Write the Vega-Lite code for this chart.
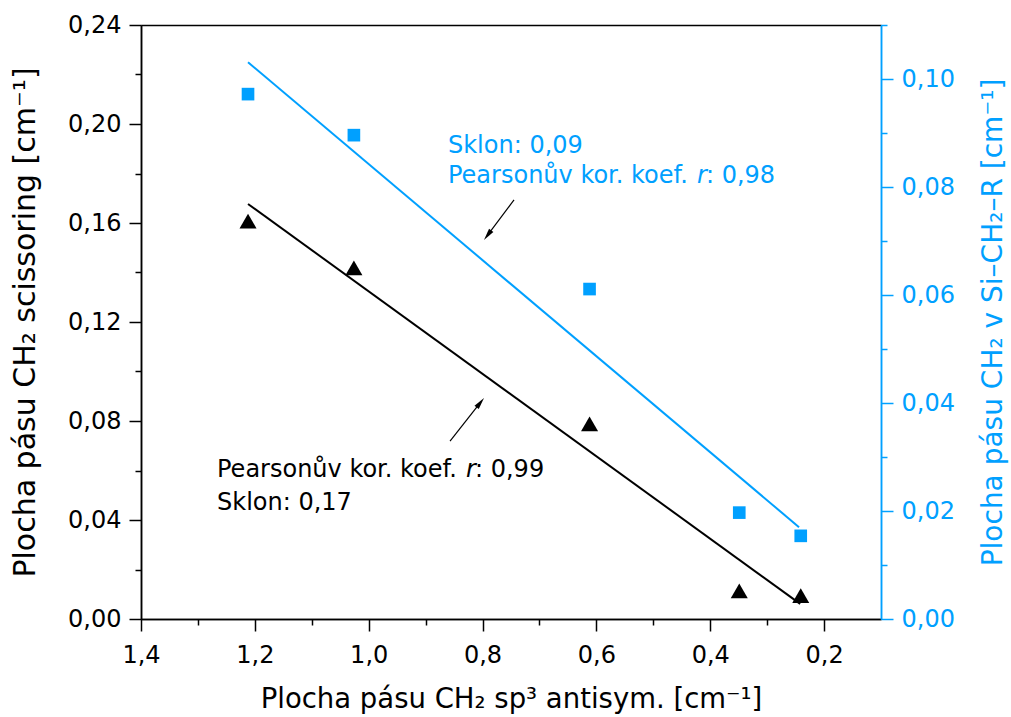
{
  "$schema": "https://vega.github.io/schema/vega-lite/v6.json",
  "width": 740,
  "height": 594,
  "autosize": {"type": "none"},
  "padding": {"left": 141, "top": 25, "right": 130, "bottom": 98},
  "background": "white",
  "config": {
    "view": {"stroke": null},
    "font": "DejaVu Sans",
    "axis": {
      "grid": false,
      "labelFont": "DejaVu Sans",
      "titleFont": "DejaVu Sans",
      "labelFontSize": 24,
      "titleFontSize": 28,
      "titleFontWeight": "normal",
      "domainColor": "black",
      "tickColor": "black",
      "labelColor": "black",
      "titleColor": "black",
      "domainWidth": 1.5,
      "tickWidth": 1.5,
      "tickSize": 12,
      "labelFlush": false,
      "labelOverlap": false
    }
  },
  "datasets": {
    "pts": [
      {"x": 1.212, "tri": 0.1608, "sq": 0.0972},
      {"x": 1.026, "tri": 0.1419, "sq": 0.0896},
      {"x": 0.612, "tri": 0.0788, "sq": 0.0611},
      {"x": 0.349, "tri": 0.0114, "sq": 0.0197},
      {"x": 0.241, "tri": 0.0094, "sq": 0.0154}
    ],
    "fitBlack": [
      {"x": 1.212, "y": 0.1677},
      {"x": 0.242, "y": 0.0061}
    ],
    "fitBlue": [
      {"x": 1.212, "y": 0.1031},
      {"x": 0.244, "y": 0.0170}
    ],
    "arrows": [
      {"x": 0.8571, "y": 0.0719, "x2": 0.8039, "y2": 0.0874},
      {"x": 0.7447, "y": 0.1693, "x2": 0.7911, "y2": 0.1551}
    ],
    "headBlack": [{"x": 0.8039, "y": 0.0874}],
    "headBlue": [{"x": 0.7911, "y": 0.1551}],
    "txtBlackA": [
      {"x": 1.2665, "y": 0.0574, "t": "Pearsonův kor. koef."},
      {"x": 1.2665, "y": 0.0440, "t": "Sklon: 0,17"}
    ],
    "txtBlackB": [{"x": 1.2665, "y": 0.0574, "t": "r"}],
    "txtBlackC": [{"x": 1.2665, "y": 0.0574, "t": ": 0,99"}],
    "txtBlueA": [
      {"x": 0.8607, "y": 0.1883, "t": "Sklon: 0,09"},
      {"x": 0.8607, "y": 0.1762, "t": "Pearsonův kor. koef."}
    ],
    "txtBlueB": [{"x": 0.8607, "y": 0.1762, "t": "r"}],
    "txtBlueC": [{"x": 0.8607, "y": 0.1762, "t": ": 0,98"}]
  },
  "layer": [
    {
      "data": {"name": "pts"},
      "mark": {"type": "point", "shape": "triangle-up", "filled": true, "size": 290, "color": "black", "opacity": 1, "strokeWidth": 0},
      "encoding": {
        "x": {"field": "x", "type": "quantitative", "scale": {"domain": [0.1, 1.4], "reverse": true, "nice": false, "zero": false},
          "axis": {"orient": "bottom", "values": [1.4, 1.2, 1.0, 0.8, 0.6, 0.4, 0.2], "labelPadding": 12,
            "labelExpr": "replace(format(datum.value, '.1f'), '.', ',')",
            "title": "Plocha pásu CH₂ sp³ antisym. [cm⁻¹]", "titleFontSize": 27.5, "titleBaseline": "alphabetic", "titleY": 88}},
        "y": {"field": "tri", "type": "quantitative", "scale": {"domain": [0, 0.24], "nice": false, "zero": false},
          "axis": {"orient": "left", "values": [0, 0.04, 0.08, 0.12, 0.16, 0.2, 0.24], "labelPadding": 8,
            "labelExpr": "replace(format(datum.value, '.2f'), '.', ',')",
            "title": "Plocha pásu CH₂ scissoring [cm⁻¹]", "titleFontSize": 30, "titleAngle": -90, "titleBaseline": "alphabetic", "titleX": -107}}
      }
    },
    {
      "data": {"name": "fitBlack"},
      "mark": {"type": "line", "color": "black", "strokeWidth": 2},
      "encoding": {
        "x": {"field": "x", "type": "quantitative", "scale": {"domain": [0.1, 1.4], "reverse": true, "nice": false, "zero": false},
          "axis": {"orient": "bottom", "values": [1.3, 1.1, 0.9, 0.7, 0.5, 0.3], "labels": false, "tickSize": 6, "title": null}},
        "y": {"field": "y", "type": "quantitative", "scale": {"domain": [0, 0.24], "nice": false, "zero": false},
          "axis": {"orient": "left", "values": [0.02, 0.06, 0.1, 0.14, 0.18, 0.22], "labels": false, "tickSize": 6, "title": null}}
      }
    },
    {
      "data": {"name": "pts"},
      "mark": {"type": "point", "shape": "square", "filled": true, "size": 160, "color": "#00A0FF", "opacity": 1, "strokeWidth": 0},
      "encoding": {
        "x": {"field": "x", "type": "quantitative", "scale": {"domain": [0.1, 1.4], "reverse": true, "nice": false, "zero": false},
          "axis": {"orient": "top", "values": [], "labels": false, "ticks": false, "title": null}},
        "y": {"field": "sq", "type": "quantitative", "scale": {"domain": [0, 0.11], "nice": false, "zero": false},
          "axis": {"orient": "right", "values": [0, 0.02, 0.04, 0.06, 0.08, 0.1], "labelPadding": 8,
            "labelExpr": "replace(format(datum.value, '.2f'), '.', ',')",
            "domainColor": "#00A0FF", "tickColor": "#00A0FF", "labelColor": "#00A0FF", "titleColor": "#00A0FF",
            "title": "Plocha pásu CH₂ v Si–CH₂–R [cm⁻¹]", "titleAngle": -90, "titleBaseline": "alphabetic", "titleX": 120}}
      }
    },
    {
      "data": {"name": "fitBlue"},
      "mark": {"type": "line", "color": "#00A0FF", "strokeWidth": 2},
      "encoding": {
        "x": {"field": "x", "type": "quantitative", "scale": {"domain": [0.1, 1.4], "reverse": true, "nice": false, "zero": false}, "axis": null},
        "y": {"field": "y", "type": "quantitative", "scale": {"domain": [0, 0.11], "nice": false, "zero": false},
          "axis": {"orient": "right", "values": [0.01, 0.03, 0.05, 0.07, 0.09, 0.11], "labels": false, "tickSize": 6, "title": null,
            "domainColor": "#00A0FF", "tickColor": "#00A0FF"}}
      }
    },
    {
      "data": {"name": "arrows"},
      "mark": {"type": "rule", "color": "black", "strokeWidth": 1.2},
      "encoding": {
        "x": {"field": "x", "type": "quantitative", "scale": {"domain": [0.1, 1.4], "reverse": true, "nice": false, "zero": false}, "axis": null},
        "x2": {"field": "x2"},
        "y": {"field": "y", "type": "quantitative", "scale": {"domain": [0, 0.24], "nice": false, "zero": false}, "axis": null},
        "y2": {"field": "y2"}
      }
    },
    {
      "data": {"name": "headBlack"},
      "mark": {"type": "point", "shape": "M0,-1L0.45,1L-0.45,1Z", "filled": true, "size": 144, "color": "black", "opacity": 1, "strokeWidth": 0, "angle": 38},
      "encoding": {
        "x": {"field": "x", "type": "quantitative", "scale": {"domain": [0.1, 1.4], "reverse": true, "nice": false, "zero": false}, "axis": null},
        "y": {"field": "y", "type": "quantitative", "scale": {"domain": [0, 0.24], "nice": false, "zero": false}, "axis": null}
      }
    },
    {
      "data": {"name": "headBlue"},
      "mark": {"type": "point", "shape": "M0,-1L0.45,1L-0.45,1Z", "filled": true, "size": 144, "color": "black", "opacity": 1, "strokeWidth": 0, "angle": 217},
      "encoding": {
        "x": {"field": "x", "type": "quantitative", "scale": {"domain": [0.1, 1.4], "reverse": true, "nice": false, "zero": false}, "axis": null},
        "y": {"field": "y", "type": "quantitative", "scale": {"domain": [0, 0.24], "nice": false, "zero": false}, "axis": null}
      }
    },
    {
      "data": {"name": "txtBlackA"},
      "mark": {"type": "text", "align": "left", "baseline": "alphabetic", "fontSize": 24, "font": "DejaVu Sans", "color": "black"},
      "encoding": {
        "x": {"field": "x", "type": "quantitative", "scale": {"domain": [0.1, 1.4], "reverse": true, "nice": false, "zero": false}, "axis": null},
        "y": {"field": "y", "type": "quantitative", "scale": {"domain": [0, 0.24], "nice": false, "zero": false}, "axis": null},
        "text": {"field": "t"}
      }
    },
    {
      "data": {"name": "txtBlackB"},
      "mark": {"type": "text", "align": "left", "baseline": "alphabetic", "fontSize": 24, "font": "DejaVu Sans", "fontStyle": "italic", "color": "black", "dx": 249},
      "encoding": {
        "x": {"field": "x", "type": "quantitative", "scale": {"domain": [0.1, 1.4], "reverse": true, "nice": false, "zero": false}, "axis": null},
        "y": {"field": "y", "type": "quantitative", "scale": {"domain": [0, 0.24], "nice": false, "zero": false}, "axis": null},
        "text": {"field": "t"}
      }
    },
    {
      "data": {"name": "txtBlackC"},
      "mark": {"type": "text", "align": "left", "baseline": "alphabetic", "fontSize": 24, "font": "DejaVu Sans", "color": "black", "dx": 258},
      "encoding": {
        "x": {"field": "x", "type": "quantitative", "scale": {"domain": [0.1, 1.4], "reverse": true, "nice": false, "zero": false}, "axis": null},
        "y": {"field": "y", "type": "quantitative", "scale": {"domain": [0, 0.24], "nice": false, "zero": false}, "axis": null},
        "text": {"field": "t"}
      }
    },
    {
      "data": {"name": "txtBlueA"},
      "mark": {"type": "text", "align": "left", "baseline": "alphabetic", "fontSize": 24, "font": "DejaVu Sans", "color": "#00A0FF"},
      "encoding": {
        "x": {"field": "x", "type": "quantitative", "scale": {"domain": [0.1, 1.4], "reverse": true, "nice": false, "zero": false}, "axis": null},
        "y": {"field": "y", "type": "quantitative", "scale": {"domain": [0, 0.24], "nice": false, "zero": false}, "axis": null},
        "text": {"field": "t"}
      }
    },
    {
      "data": {"name": "txtBlueB"},
      "mark": {"type": "text", "align": "left", "baseline": "alphabetic", "fontSize": 24, "font": "DejaVu Sans", "fontStyle": "italic", "color": "#00A0FF", "dx": 249},
      "encoding": {
        "x": {"field": "x", "type": "quantitative", "scale": {"domain": [0.1, 1.4], "reverse": true, "nice": false, "zero": false}, "axis": null},
        "y": {"field": "y", "type": "quantitative", "scale": {"domain": [0, 0.24], "nice": false, "zero": false}, "axis": null},
        "text": {"field": "t"}
      }
    },
    {
      "data": {"name": "txtBlueC"},
      "mark": {"type": "text", "align": "left", "baseline": "alphabetic", "fontSize": 24, "font": "DejaVu Sans", "color": "#00A0FF", "dx": 258},
      "encoding": {
        "x": {"field": "x", "type": "quantitative", "scale": {"domain": [0.1, 1.4], "reverse": true, "nice": false, "zero": false}, "axis": null},
        "y": {"field": "y", "type": "quantitative", "scale": {"domain": [0, 0.24], "nice": false, "zero": false}, "axis": null},
        "text": {"field": "t"}
      }
    }
  ],
  "resolve": {"scale": {"y": "independent"}, "axis": {"x": "independent", "y": "independent"}}
}
